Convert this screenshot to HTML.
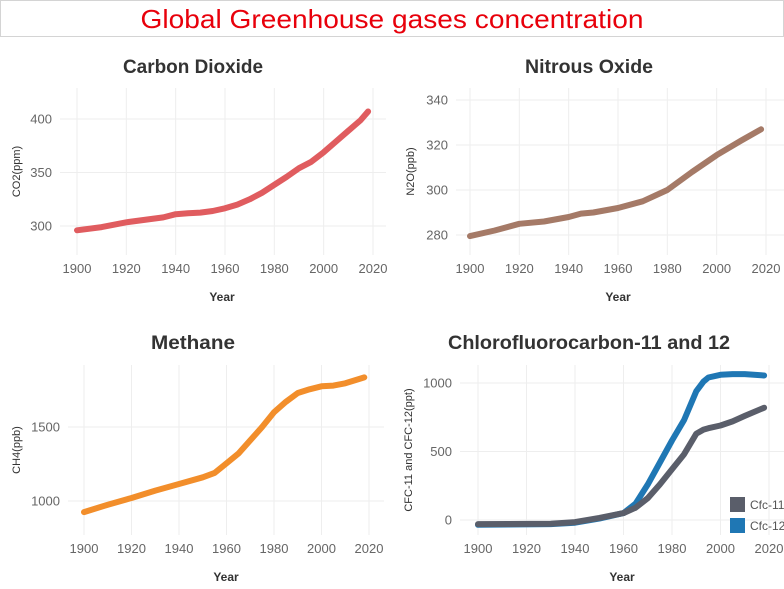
<!DOCTYPE html>
<html><head><meta charset="utf-8"><style>
body{margin:0;background:#fff;}
svg text{font-family:"Liberation Sans",sans-serif;}
</style></head><body>
<svg id="chart" width="784" height="584" viewBox="0 0 784 584" xmlns="http://www.w3.org/2000/svg">
<rect x="0.5" y="0.5" width="783" height="36" fill="none" stroke="#aaa" stroke-dasharray="1,1"/>
<text x="392" y="28" text-anchor="middle" font-size="26" fill="#e8000b" textLength="503" lengthAdjust="spacingAndGlyphs">Global Greenhouse gases concentration</text>
</svg>
<script>
const years=[1900,1910,1920,1930,1935,1940,1945,1950,1955,1960,1965,1970,1975,1980,1985,1990,1995,2000,2005,2010,2015,2018];
const co2=[296,299,303.5,306.5,308,311,312,312.5,314,316.5,320,325,331,338.5,346,354,360,369,379,389,399,407];
const n2oYears=[1900,1910,1920,1930,1940,1945,1950,1960,1970,1980,1990,2000,2010,2018];
const n2o=[279.5,282,285,286,288,289.5,290,292,295,300,308,315.5,322,327];
const ch4Years=[1900,1910,1920,1930,1940,1950,1955,1960,1965,1970,1975,1980,1985,1990,1995,2000,2005,2010,2018];
const ch4=[925,975,1020,1070,1115,1160,1190,1255,1320,1410,1500,1600,1670,1730,1755,1775,1780,1795,1835];
const cfcYears=[1900,1930,1940,1950,1960,1965,1970,1975,1980,1985,1990,1993,1995,2000,2005,2010,2018];
const cfc11=[-30,-28,-15,15,50,90,160,260,370,480,630,660,670,690,720,760,820];
const cfc12=[-35,-30,-20,10,50,120,260,420,580,730,940,1010,1040,1060,1065,1065,1055];
const xTicks=[1900,1920,1940,1960,1980,2000,2020];
const co2Ticks=[300,350,400];
const n2oTicks=[280,300,320,340];
const ch4Ticks=[1000,1500];
const cfcTicks=[0,500,1000];

const svg=document.getElementById('chart');
const NS='http://www.w3.org/2000/svg';
function mk(tag,attrs,parent){const e=document.createElementNS(NS,tag);for(const k in attrs)e.setAttribute(k,attrs[k]);(parent||svg).appendChild(e);return e;}

function panel(p){
  const g=mk('g',{});
  
  
  const sx=v=>p.x0+(v-1900)*(p.x1-p.x0)/120;
  const sy=v=>p.ya+(v-p.va)*(p.yb-p.ya)/(p.vb-p.va);
  const t=mk('text',{x:p.tx,y:p.ty,'text-anchor':'middle','font-size':19,'font-weight':'bold',fill:'#333',textLength:p.tl,lengthAdjust:'spacingAndGlyphs'},g);
  t.textContent=p.title;
  
  
  xTicks.forEach(v=>{
    const l=mk('line',{x1:sx(v),x2:sx(v),y1:p.top,y2:p.bot,stroke:'#eee'},g);
    
    
    const tx=mk('text',{x:sx(v),y:p.bot+18,'text-anchor':'middle','font-size':13,fill:'#666'},g);
    tx.textContent=v;
    
    
  });
  p.ticks.forEach(v=>{
    const l=mk('line',{x1:p.left,x2:p.right,y1:sy(v),y2:sy(v),stroke:'#eee'},g);
    
    
    const tx=mk('text',{x:p.left-8,y:sy(v)+4.5,'text-anchor':'end','font-size':13,fill:'#666'},g);
    tx.textContent=v;
    
    
  });
  const xl=mk('text',{x:p.xlx,y:p.bot+46,'text-anchor':'middle','font-size':12,'font-weight':'bold',fill:'#333'},g);
  xl.textContent='Year';
  
  
  const cy=(p.top+p.bot)/2;
  const yl=mk('text',{x:p.ylx,y:cy,'text-anchor':'middle','font-size':11,fill:'#333',transform:`rotate(-90 ${p.ylx} ${cy})`},g);
  yl.textContent=p.ylabel;
  
  
  p.series.forEach(s=>{
    const d=s.xs.map((x,i)=>(i?'L':'M')+sx(x).toFixed(1)+','+sy(s.ys[i]).toFixed(1)).join(' ');
    const path=mk('path',{d,fill:'none',stroke:s.color,'stroke-width':6,'stroke-linecap':'round','stroke-linejoin':'round'},g);
    
    
  });
}

panel({name:'co2-panel',title:'Carbon Dioxide',tx:193,ty:73,tl:140,x0:77,x1:373,va:300,vb:400,ya:226,yb:119,left:60,right:386,top:88,bot:255,ticks:co2Ticks,xlx:222,ylx:20,ylabel:'CO2(ppm)',
  series:[{name:'co2-line',xs:years,ys:co2,color:'#e05c5f'}]});
panel({name:'n2o-panel',title:'Nitrous Oxide',tx:589,ty:73,tl:128,x0:470,x1:766,va:280,vb:340,ya:235,yb:100,left:456,right:784,top:88,bot:255,ticks:n2oTicks,xlx:618,ylx:414,ylabel:'N2O(ppb)',
  series:[{name:'n2o-line',xs:n2oYears,ys:n2o,color:'#a57a67'}]});
panel({name:'ch4-panel',title:'Methane',tx:193,ty:349,tl:84,x0:84,x1:369,va:1000,vb:1500,ya:501,yb:427,left:68,right:384,top:365,bot:535,ticks:ch4Ticks,xlx:226,ylx:20,ylabel:'CH4(ppb)',
  series:[{name:'ch4-line',xs:ch4Years,ys:ch4,color:'#f28e2b'}]});
panel({name:'cfc-panel',title:'Chlorofluorocarbon-11 and 12',tx:589,ty:349,tl:282,x0:478,x1:769,va:0,vb:1000,ya:520,yb:383,left:460,right:784,top:365,bot:535,ticks:cfcTicks,xlx:622,ylx:412,ylabel:'CFC-11 and CFC-12(ppt)',
  series:[{name:'cfc12-line',xs:cfcYears,ys:cfc12,color:'#1f77b4'},{name:'cfc11-line',xs:cfcYears,ys:cfc11,color:'#5a5e6a'}]});

[['Cfc-11','#5a5e6a',497],['Cfc-12','#1f77b4',518]].forEach(([lab,c,y])=>{
  const g=mk('g',{});
  
  
  const r=mk('rect',{x:730,y:y,width:15,height:15,fill:c},g);
  
  
  const t=mk('text',{x:750,y:y+12,'font-size':12,fill:'#555'},g);
  t.textContent=lab;
  
  
});
</script>
</body></html>
